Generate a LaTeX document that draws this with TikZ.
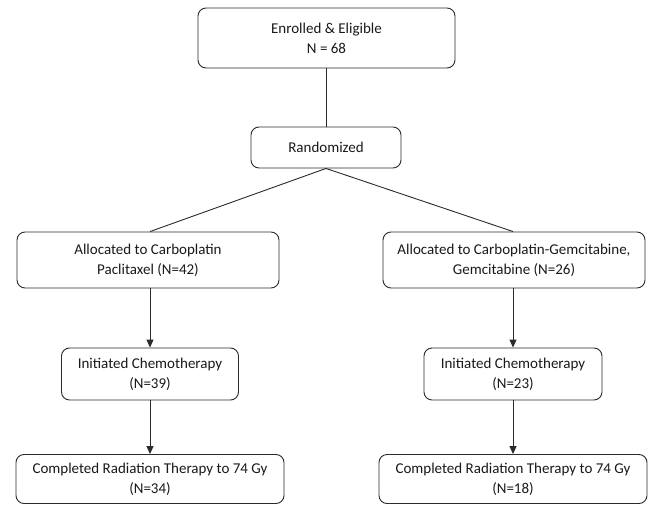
\documentclass[tikz,border=0pt]{standalone}
\usepackage{fontspec}
\setmainfont{Carlito}
\usetikzlibrary{arrows.meta}
\definecolor{ln}{HTML}{2B2B2B}
\definecolor{tx}{HTML}{1A1A1A}
\begin{document}
\begin{tikzpicture}[x=1pt,y=-1pt,
  box/.style={draw=ln,line width=0.9pt,rounded corners=8pt,inner sep=0pt,align=center,
    text=tx,font=\fontsize{15}{20}\selectfont},
  link/.style={draw=ln,line width=0.9pt},
  arr/.style={draw=ln,line width=0.9pt,-{Triangle[length=8pt,width=7pt]}}]
\useasboundingbox (0,0) rectangle (650,505);
\fill[white] (0,0) rectangle (650,505);
\node[box,minimum width=257pt,minimum height=60pt] (enr) at (326.5,38) {Enrolled \& Eligible\\N = 68};
\node[box,minimum width=150pt,minimum height=41pt] (rand) at (326,147.5) {Randomized};
\node[box,minimum width=262pt,minimum height=56pt] (la) at (148,260) {Allocated to Carboplatin\\Paclitaxel (N=42)};
\node[box,minimum width=262pt,minimum height=56pt] (ra) at (514,260) {Allocated to Carboplatin-Gemcitabine,\\Gemcitabine (N=26)};
\node[box,minimum width=177pt,minimum height=52pt] (li) at (150,374) {Initiated Chemotherapy\\(N=39)};
\node[box,minimum width=178pt,minimum height=52pt] (ri) at (513,374) {Initiated Chemotherapy\\(N=23)};
\node[box,minimum width=268pt,minimum height=49pt] (lc) at (150,479) {Completed Radiation Therapy to 74 Gy\\(N=34)};
\node[box,minimum width=268pt,minimum height=49pt] (rc) at (513,479) {Completed Radiation Therapy to 74 Gy\\(N=18)};
\draw[link] (enr.south -| rand.north) -- (rand.north);
\draw[link] (rand.south) -- (la.north -| li.north);
\draw[link] (rand.south) -- (ra.north -| ri.north);
\draw[arr] (li.north |- la.south) -- (li.north);
\draw[arr] (ri.north |- ra.south) -- (ri.north);
\draw[arr] (li.south) -- (lc.north);
\draw[arr] (ri.south) -- (rc.north);
\end{tikzpicture}
\end{document}
